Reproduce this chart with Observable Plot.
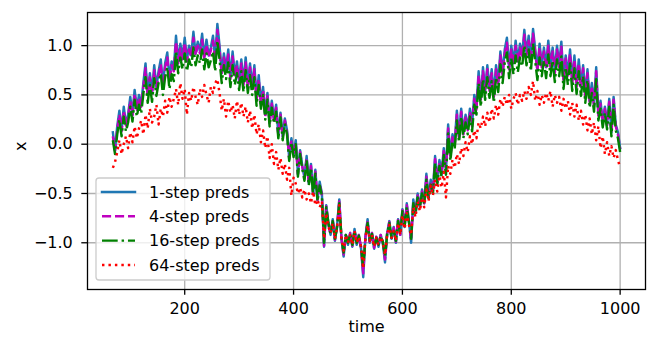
<!DOCTYPE html>
<html><head><meta charset="utf-8">
<script src="https://cdn.jsdelivr.net/npm/d3@7"></script>
<script src="https://cdn.jsdelivr.net/npm/@observablehq/plot@0.6"></script>
<style>
body{margin:0;background:#fff;}
#chart{position:relative;width:657px;height:352px;font-family:"DejaVu Sans",sans-serif;}
#chart svg{position:absolute;left:0;top:0;}
</style></head><body><div id="chart"></div>
<script>
// time steps (every 4 steps, 68 .. 1000)
const time = d3.range(68, 1001, 4);

const labels = ["1-step preds", "4-step preds", "16-step preds", "64-step preds"];
const xTicks = [200, 400, 600, 800, 1000];
const yTicks = [-1.0, -0.5, 0.0, 0.5, 1.0];

const step1 = [
  0.12, -0.06, 0.18, 0.34, 0.14, 0.38, 0.20, 0.30, 0.48, 0.30,
  0.55, 0.36, 0.50, 0.40, 0.62, 0.82, 0.50, 0.72, 0.52, 0.80,
  0.58, 0.74, 0.86, 0.60, 0.82, 0.93, 0.66, 0.84, 0.76, 1.10,
  0.84, 1.02, 0.88, 1.08, 0.86, 1.00, 0.90, 1.14, 0.92, 1.04,
  0.94, 1.12, 0.88, 1.06, 0.90, 0.98, 1.10, 0.86, 1.22, 1.00,
  0.72, 0.92, 0.76, 0.96, 0.68, 0.94, 0.70, 0.84, 0.64, 0.86,
  0.62, 0.88, 0.60, 0.82, 0.58, 0.80, 0.46, 0.70, 0.42, 0.58,
  0.30, 0.52, 0.22, 0.44, 0.26, 0.40, 0.10, 0.32, 0.08, 0.26,
  0.14, -0.14, 0.06, -0.10, 0.04, -0.30, -0.06, -0.22, -0.34, -0.12,
  -0.40, -0.20, -0.50, -0.26, -0.56, -0.38, -0.50, -1.04, -0.62, -0.80,
  -0.92, -0.76, -0.98, -0.82, -0.56, -0.96, -1.14, -0.92, -1.02, -0.90,
  -1.04, -0.86, -1.02, -0.92, -1.06, -1.35, -0.94, -0.76, -1.00, -0.90,
  -1.06, -0.94, -1.04, -0.92, -1.00, -1.20, -0.90, -0.78, -0.96, -0.84,
  -1.00, -0.76, -0.92, -0.66, -0.84, -0.60, -0.78, -1.00, -0.56, -0.70,
  -0.50, -0.64, -0.46, -0.60, -0.30, -0.54, -0.36, -0.48, -0.12, -0.38,
  -0.16, -0.30, -0.04, -0.28, 0.20, -0.12, 0.10, 0.00, 0.34, 0.08,
  0.36, 0.12, 0.30, 0.16, 0.36, 0.20, 0.50, 0.38, 0.74, 0.46,
  0.78, 0.54, 0.80, 0.56, 0.76, 0.50, 0.80, 0.62, 0.94, 0.72,
  0.96, 1.08, 0.78, 1.00, 0.82, 1.05, 0.84, 1.02, 0.90, 1.16,
  0.92, 1.10, 0.86, 1.17, 0.96, 0.76, 1.02, 0.80, 0.98, 0.78,
  1.05, 0.80, 0.98, 0.74, 1.00, 0.80, 1.04, 0.66, 0.90, 0.70,
  0.96, 0.64, 0.90, 0.60, 0.86, 0.58, 0.80, 0.50, 0.76, 0.44,
  0.62, 0.40, 0.78, 0.30, 0.44, 0.22, 0.38, 0.20, 0.46, 0.12,
  0.48, 0.20, 0.12, -0.04
];
const step4 = [
  0.08, -0.07, 0.15, 0.30, 0.13, 0.34, 0.19, 0.28, 0.44, 0.29,
  0.51, 0.35, 0.47, 0.38, 0.58, 0.77, 0.48, 0.68, 0.50, 0.75,
  0.56, 0.70, 0.81, 0.58, 0.78, 0.88, 0.64, 0.80, 0.74, 1.04,
  0.82, 0.97, 0.86, 1.03, 0.84, 0.96, 0.88, 1.08, 0.90, 1.00,
  0.92, 1.06, 0.86, 1.01, 0.88, 0.95, 1.05, 0.84, 1.16, 0.96,
  0.70, 0.88, 0.74, 0.91, 0.66, 0.89, 0.68, 0.80, 0.62, 0.82,
  0.60, 0.83, 0.58, 0.78, 0.56, 0.76, 0.44, 0.66, 0.40, 0.55,
  0.28, 0.49, 0.21, 0.41, 0.24, 0.37, 0.09, 0.30, 0.07, 0.24,
  0.12, -0.15, 0.04, -0.11, 0.02, -0.31, -0.08, -0.23, -0.35, -0.14,
  -0.41, -0.22, -0.51, -0.28, -0.57, -0.40, -0.51, -1.03, -0.63, -0.81,
  -0.92, -0.77, -0.97, -0.83, -0.58, -0.96, -1.12, -0.92, -1.01, -0.90,
  -1.03, -0.87, -1.01, -0.92, -1.05, -1.31, -0.94, -0.78, -0.99, -0.90,
  -1.05, -0.94, -1.03, -0.92, -1.00, -1.17, -0.90, -0.79, -0.95, -0.85,
  -0.99, -0.77, -0.92, -0.67, -0.83, -0.62, -0.78, -0.98, -0.58, -0.70,
  -0.52, -0.63, -0.48, -0.60, -0.33, -0.54, -0.38, -0.49, -0.15, -0.39,
  -0.19, -0.31, -0.07, -0.29, 0.16, -0.14, 0.07, -0.02, 0.30, 0.06,
  0.33, 0.10, 0.27, 0.14, 0.33, 0.18, 0.46, 0.35, 0.70, 0.44,
  0.74, 0.52, 0.76, 0.54, 0.72, 0.48, 0.76, 0.60, 0.90, 0.70,
  0.92, 1.03, 0.76, 0.96, 0.80, 1.00, 0.82, 0.98, 0.88, 1.11,
  0.90, 1.05, 0.84, 1.12, 0.93, 0.74, 0.98, 0.78, 0.94, 0.76,
  1.00, 0.78, 0.94, 0.72, 0.96, 0.78, 0.99, 0.64, 0.87, 0.68,
  0.92, 0.62, 0.86, 0.58, 0.82, 0.56, 0.77, 0.48, 0.72, 0.43,
  0.59, 0.38, 0.74, 0.29, 0.41, 0.21, 0.36, 0.19, 0.43, 0.11,
  0.45, 0.18, 0.10, -0.05
];
const step16 = [
  0.04, -0.10, 0.10, 0.25, 0.08, 0.28, 0.13, 0.22, 0.38, 0.23,
  0.45, 0.28, 0.40, 0.31, 0.51, 0.68, 0.42, 0.60, 0.43, 0.67,
  0.49, 0.62, 0.72, 0.50, 0.68, 0.78, 0.56, 0.71, 0.64, 0.94,
  0.72, 0.88, 0.76, 0.92, 0.74, 0.86, 0.78, 0.98, 0.80, 0.90,
  0.82, 0.96, 0.76, 0.92, 0.78, 0.85, 0.94, 0.74, 1.05, 0.86,
  0.62, 0.80, 0.66, 0.83, 0.58, 0.80, 0.60, 0.72, 0.55, 0.74,
  0.53, 0.75, 0.52, 0.70, 0.50, 0.68, 0.39, 0.60, 0.36, 0.50,
  0.25, 0.45, 0.18, 0.37, 0.21, 0.33, 0.06, 0.27, 0.04, 0.21,
  0.10, -0.17, 0.02, -0.13, 0.00, -0.33, -0.10, -0.25, -0.37, -0.16,
  -0.42, -0.24, -0.52, -0.30, -0.58, -0.42, -0.52, -1.00, -0.64, -0.80,
  -0.91, -0.78, -0.96, -0.84, -0.60, -0.95, -1.10, -0.92, -1.00, -0.91,
  -1.02, -0.88, -1.00, -0.93, -1.04, -1.26, -0.95, -0.80, -0.98, -0.91,
  -1.04, -0.95, -1.02, -0.93, -0.99, -1.14, -0.91, -0.80, -0.95, -0.86,
  -0.98, -0.78, -0.91, -0.68, -0.83, -0.64, -0.79, -0.96, -0.60, -0.71,
  -0.54, -0.64, -0.50, -0.61, -0.36, -0.55, -0.41, -0.50, -0.19, -0.41,
  -0.22, -0.33, -0.11, -0.31, 0.11, -0.17, 0.03, -0.05, 0.24, 0.02,
  0.28, 0.06, 0.22, 0.10, 0.28, 0.13, 0.40, 0.30, 0.62, 0.38,
  0.66, 0.45, 0.68, 0.47, 0.64, 0.42, 0.68, 0.53, 0.81, 0.62,
  0.83, 0.93, 0.67, 0.87, 0.71, 0.90, 0.73, 0.88, 0.79, 1.00,
  0.80, 0.96, 0.74, 1.02, 0.84, 0.65, 0.88, 0.69, 0.85, 0.67,
  0.91, 0.69, 0.85, 0.63, 0.86, 0.69, 0.89, 0.56, 0.78, 0.60,
  0.82, 0.54, 0.77, 0.51, 0.74, 0.49, 0.69, 0.42, 0.65, 0.37,
  0.52, 0.33, 0.66, 0.24, 0.36, 0.17, 0.32, 0.15, 0.38, 0.08,
  0.40, 0.14, 0.06, -0.08
];
const step64 = [
  -0.24, -0.18, -0.08, 0.04, -0.10, 0.00, 0.08, -0.04, 0.12, 0.02,
  0.18, 0.06, 0.16, 0.24, 0.10, 0.30, 0.16, 0.36, 0.22, 0.28,
  0.40, 0.20, 0.36, 0.28, 0.44, 0.32, 0.48, 0.38, 0.46, 0.56,
  0.40, 0.62, 0.46, 0.56, 0.30, 0.52, 0.44, 0.58, 0.48, 0.40,
  0.56, 0.48, 0.60, 0.50, 0.42, 0.58, 0.52, 0.62, 0.66, 0.52,
  0.34, 0.46, 0.28, 0.44, 0.32, 0.40, 0.26, 0.44, 0.30, 0.42,
  0.28, 0.38, 0.22, 0.34, 0.16, 0.30, 0.10, 0.20, 0.02, 0.14,
  -0.04, 0.08, -0.14, 0.00, -0.20, -0.08, -0.26, -0.14, -0.30, -0.20,
  -0.36, -0.24, -0.52, -0.34, -0.40, -0.50, -0.44, -0.54, -0.46, -0.56,
  -0.50, -0.60, -0.48, -0.62, -0.56, -0.64, -0.58, -0.96, -0.70, -0.84,
  -0.90, -0.80, -0.96, -0.84, -0.62, -0.95, -1.08, -0.92, -1.00, -0.92,
  -1.02, -0.88, -1.00, -0.94, -1.04, -1.26, -0.95, -0.82, -0.98, -0.92,
  -1.04, -0.95, -1.02, -0.94, -0.99, -1.12, -0.92, -0.82, -0.95, -0.88,
  -0.98, -0.80, -0.92, -0.72, -0.86, -0.70, -0.82, -0.92, -0.64, -0.74,
  -0.58, -0.68, -0.54, -0.64, -0.46, -0.58, -0.42, -0.52, -0.36, -0.48,
  -0.32, -0.44, -0.28, -0.54, -0.22, -0.30, -0.16, -0.24, -0.10, -0.20,
  -0.04, -0.12, 0.02, -0.08, 0.08, 0.00, 0.14, 0.06, 0.22, 0.16,
  0.28, 0.18, 0.32, 0.22, 0.36, 0.26, 0.40, 0.30, 0.46, 0.38,
  0.48, 0.40, 0.50, 0.36, 0.46, 0.52, 0.40, 0.50, 0.44, 0.54,
  0.46, 0.58, 0.50, 0.64, 0.44, 0.54, 0.40, 0.50, 0.42, 0.52,
  0.44, 0.54, 0.38, 0.50, 0.42, 0.48, 0.34, 0.46, 0.36, 0.44,
  0.30, 0.42, 0.28, 0.40, 0.24, 0.34, 0.20, 0.30, 0.14, 0.26,
  0.10, 0.22, 0.04, 0.18, -0.04, 0.08, -0.10, 0.02, -0.12, -0.02,
  -0.14, -0.06, -0.16, -0.24
];

const series = [step1, step4, step16, step64];
const colors = ["#1f77b4", "#bf00bf", "#008000", "#ff0000"];
const dashes = [null, "9.1,3.9", "15.7,3.9,2.45,3.9", "2.45,4"];
const LW = 2.45;

const lineMarks = series.map((vals, si) => {
  const rows = vals.map((v, i) => ({t: time[i], v}));
  const o = {x: "t", y: "v", stroke: colors[si], strokeWidth: LW, strokeLinejoin: "round"};
  if (dashes[si]) { o.strokeDasharray = dashes[si]; o.strokeLinecap = "butt"; }
  else o.strokeLinecap = "square";
  return Plot.line(rows, o);
});

const plot = Plot.plot({
  width: 657, height: 352,
  marginLeft: 87, marginRight: 12, marginTop: 12, marginBottom: 63,
  style: {fontFamily: "DejaVu Sans", fontSize: "16px", color: "#000", background: "#fff"},
  x: {domain: [21.4, 1046.6]},
  y: {domain: [-1.474, 1.336]},
  marks: [
    Plot.gridX(xTicks, {stroke: "#b0b0b0", strokeOpacity: 1, strokeWidth: 1.3}),
    Plot.gridY(yTicks, {stroke: "#b0b0b0", strokeOpacity: 1, strokeWidth: 1.3}),
    ...lineMarks,
    Plot.frame({stroke: "#000", strokeWidth: 1.3}),
    Plot.axisX(xTicks, {tickSize: 5.7, tickPadding: 7.3, strokeWidth: 1.3, fontSize: 16, label: null, tickFormat: d => String(d)}),
    Plot.axisY(yTicks, {tickSize: 5.7, tickPadding: 9, strokeWidth: 1.3, fontSize: 16, label: null, tickFormat: d3.format(".1f")}),
    Plot.text(["time"], {frameAnchor: "bottom", dy: 42, fontSize: 16, text: d => d}),
    Plot.text(["x"], {frameAnchor: "left", dx: -67, rotate: -90, fontSize: 16, text: d => d})
  ]
});

const root = document.getElementById("chart");
root.appendChild(plot);

// legend overlay
const svg = d3.select(root).append("svg").attr("width", 657).attr("height", 352)
  .style("font-family", "DejaVu Sans").style("font-size", "16px");
svg.append("rect").attr("x", 96).attr("y", 178).attr("width", 174).attr("height", 102)
  .attr("rx", 3).attr("fill", "#fff").attr("fill-opacity", 0.8)
  .attr("stroke", "#cccccc").attr("stroke-width", 1.3);
const rowY = [192, 216.3, 240.6, 265];
labels.forEach((lab, i) => {
  const ln = svg.append("line").attr("x1", 102).attr("x2", 135).attr("y1", rowY[i]).attr("y2", rowY[i])
    .attr("stroke", colors[i]).attr("stroke-width", LW);
  if (dashes[i]) ln.attr("stroke-dasharray", dashes[i]).attr("stroke-linecap", "butt");
  else ln.attr("stroke-linecap", "square");
  svg.append("text").attr("x", 149).attr("y", rowY[i]).attr("dy", "0.36em").attr("fill", "#000").text(lab);
});
</script></body></html>
